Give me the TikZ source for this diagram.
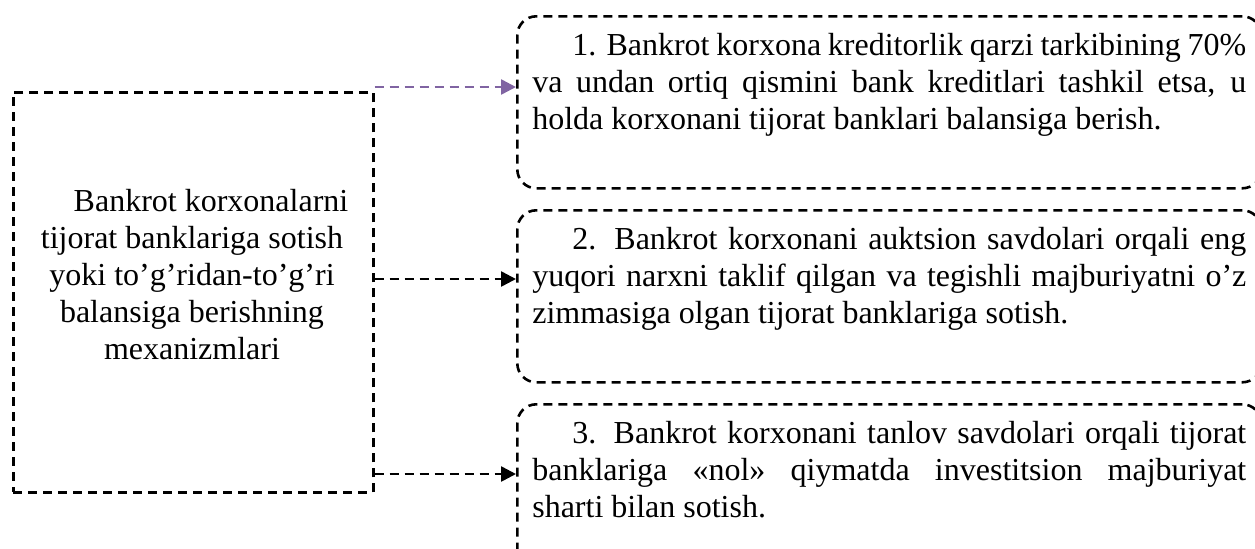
\documentclass[tikz,border=0pt]{standalone}
\usepackage{fontspec}
\setmainfont{Liberation Serif}
\usetikzlibrary{arrows.meta}
\definecolor{linkpurple}{RGB}{128, 100, 162}

\tikzset{
    dashbox/.style={draw=black, line width=1.3pt, dash pattern=on 4.5pt off 3pt},
    optbox/.style={dashbox, rounded corners=9.5pt, anchor=north west, inner xsep=7.5pt, inner ysep=8.5pt},
    link/.style={line width=1.3pt, dash pattern=on 4.5pt off 3pt, -{Triangle[length=7.5pt,width=7.5pt]}},
}
\newcommand{\opttext}[1]{\begin{minipage}[t][69pt][t]{357pt}
    \fontsize{16}{18.5}\selectfont\hyphenpenalty=10000\noindent\hspace*{20pt}#1
\end{minipage}}

\begin{document}
\begin{tikzpicture}[x=0.5pt, y=-0.5pt]
        \useasboundingbox (0,0) rectangle (1255,548);
        \node[dashbox, anchor=north west, inner sep=0pt, minimum width=180pt, minimum height=200pt] (mech) at (12,91) {};
        \node[anchor=north, align=center, inner sep=0pt, font=\fontsize{16}{18.5}\selectfont] (mechtxt) at (192,189) {
            \hspace*{19pt}Bankrot korxonalarni\\
            tijorat banklariga sotish\\
            yoki to’g’ridan-to’g’ri\\
            balansiga berishning\\
            mexanizmlari
        };
        \node[optbox] (opt1) at (516,15) {\opttext{1. Bankrot korxona kreditorlik qarzi tarkibining 70\%\linebreak
            va undan ortiq qismini bank kreditlari tashkil etsa, u\linebreak
            holda korxonani tijorat banklari balansiga berish.}};
        \node[optbox] (opt2) at (516,209) {\opttext{2. Bankrot korxonani auktsion savdolari orqali eng\linebreak
            yuqori narxni taklif qilgan va tegishli majburiyatni o’z\linebreak
            zimmasiga olgan tijorat banklariga sotish.}};
        \node[optbox] (opt3) at (516,403) {\opttext{3. Bankrot korxonani tanlov savdolari orqali tijorat\linebreak
            banklariga «nol» qiymatda investitsion majburiyat\linebreak
            sharti bilan sotish.}};
        \coordinate (a1) at (mech.north east |- 0,87);
        \coordinate (a2) at (mech.east |- 0,279);
        \coordinate (a3) at (mech.east |- 0,474);
        \draw[link, linkpurple] (a1) -- (a1 -| opt1.west);
        \draw[link] (a2) -- (a2 -| opt2.west);
        \draw[link] (a3) -- (a3 -| opt3.west);
    \end{tikzpicture}
\end{document}
